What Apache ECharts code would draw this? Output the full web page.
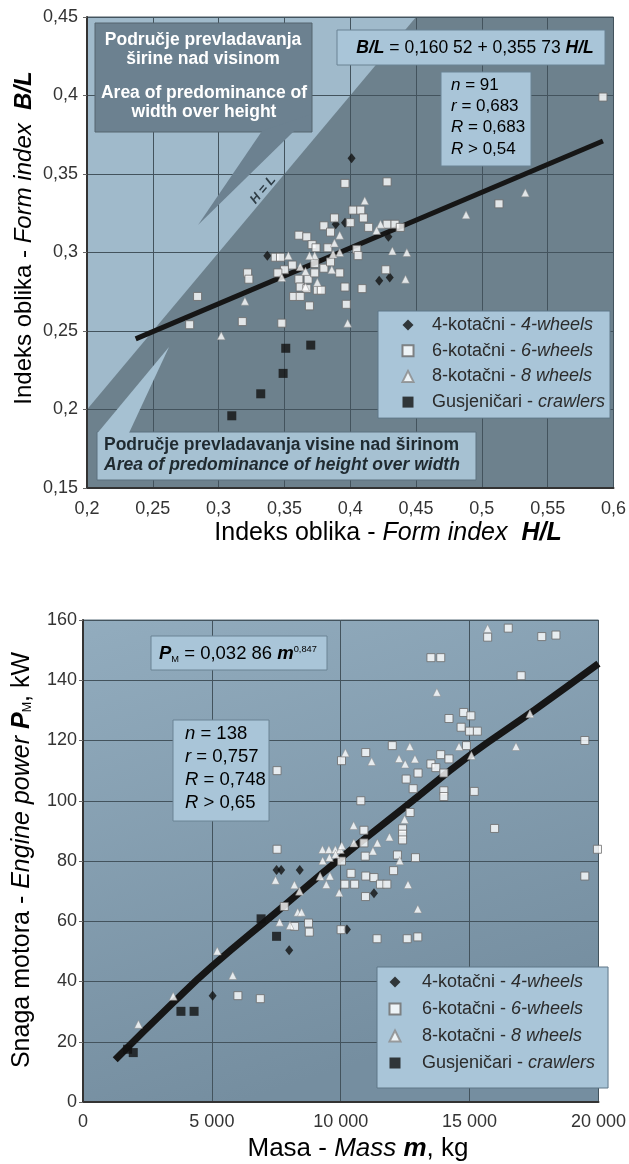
<!DOCTYPE html>
<html>
<head>
<meta charset="utf-8">
<script src="https://cdn.jsdelivr.net/npm/echarts@6/dist/echarts.min.js"></script>
<style>
html, body { margin: 0; padding: 0; background: #fff; }
#chart { width: 629px; height: 1164px; }
</style>
</head>
<body>
<div id="chart"></div>
<script>
var FONT = "'Liberation Sans', Arial, sans-serif";

var groupNames = ['4-kotačni - 4-wheels', '6-kotačni - 6-wheels', '8-kotačni - 8 wheels', 'Gusjeničari - crawlers'];
var groupLabels = ['4-kotačni - {i|4-wheels}', '6-kotačni - {i|6-wheels}', '8-kotačni - {i|8 wheels}', 'Gusjeničari - {i|crawlers}'];

// ---- top chart: form index H/L vs B/L ----
var topX = [0.2, 0.6];
var topY = [0.15, 0.45];
var topStep = 0.05;
var widthZone = [[0.2, 0.2], [0.2, 0.45], [0.45, 0.45]];   // B/L > H/L

var fourWheelTop = [[0.401, 0.360], [0.389, 0.318], [0.396, 0.319], [0.337, 0.298], [0.429, 0.310], [0.422, 0.282], [0.430, 0.284]];
var sixWheelTop = [
  [0.592, 0.399], [0.513, 0.331], [0.396, 0.344], [0.428, 0.345],
  [0.402, 0.327], [0.408, 0.327], [0.410, 0.322], [0.388, 0.322], [0.400, 0.319], [0.380, 0.317], [0.385, 0.313], [0.414, 0.316],
  [0.428, 0.318], [0.434, 0.318], [0.438, 0.316],
  [0.361, 0.311], [0.367, 0.310], [0.371, 0.305], [0.374, 0.303], [0.383, 0.303], [0.405, 0.302], [0.406, 0.298],
  [0.343, 0.297], [0.347, 0.297], [0.356, 0.292], [0.350, 0.289], [0.373, 0.293], [0.380, 0.290], [0.385, 0.294], [0.392, 0.287], [0.345, 0.287],
  [0.322, 0.287], [0.323, 0.283], [0.361, 0.283], [0.368, 0.283], [0.373, 0.287], [0.362, 0.278], [0.367, 0.277], [0.375, 0.276], [0.378, 0.276],
  [0.396, 0.278], [0.409, 0.277], [0.427, 0.289],
  [0.357, 0.272], [0.362, 0.272], [0.369, 0.266], [0.397, 0.267],
  [0.284, 0.272], [0.278, 0.254], [0.318, 0.256], [0.348, 0.255]
];
var eightWheelTop = [
  [0.411, 0.333], [0.392, 0.311], [0.388, 0.306], [0.387, 0.299], [0.392, 0.300], [0.423, 0.318], [0.420, 0.314], [0.432, 0.301], [0.443, 0.300], [0.442, 0.283],
  [0.353, 0.298], [0.373, 0.298], [0.369, 0.298], [0.362, 0.291], [0.366, 0.288], [0.348, 0.284], [0.375, 0.281], [0.366, 0.278], [0.320, 0.269], [0.386, 0.289],
  [0.302, 0.247], [0.398, 0.255], [0.488, 0.324], [0.533, 0.338]
];
var crawlerTop = [[0.310, 0.196], [0.332, 0.210], [0.349, 0.223], [0.351, 0.239], [0.370, 0.241]];
var regTop = [[0.237, 0.245], [0.592, 0.371]];

// ---- bottom chart: mass m vs engine power P ----
var botX = [0, 20000];
var botY = [0, 160];
var fourWheelBot = [[7510, 77], [7690, 77], [8410, 77], [8000, 50.4], [5030, 35.3], [11290, 69.3], [10240, 57.3]];
var sixWheelBot = [
  [15700, 154.3], [16500, 157.3], [17800, 154.5], [18350, 155], [17000, 141.5], [13500, 147.5], [13880, 147.5],
  [14200, 127.3], [14770, 129.3], [15050, 128.2], [14670, 124.4], [15000, 123.1], [15300, 123.1], [14880, 118.3], [19470, 120],
  [12000, 118.3], [10970, 116], [10030, 113.3], [7530, 110], [13880, 115.3], [14200, 113.9], [13500, 112.2], [13690, 111], [14000, 109.2], [13000, 109.2],
  [12540, 107.2], [12810, 104], [14000, 103.3], [14000, 101.4], [15180, 103.1], [10780, 100], [12690, 96.1], [12400, 90.7], [12400, 88.9], [12400, 87.0],
  [15970, 90.8], [19960, 83.9], [19470, 75], [10900, 90.2], [7530, 83.9], [10900, 86], [10950, 81.6], [12900, 81.1], [10030, 80], [12200, 82],
  [10400, 75.9], [10970, 75], [11290, 74.5], [11540, 72.3], [11790, 72.3], [10160, 72.3], [10540, 72.3], [12050, 76.8], [10960, 68.2], [10015, 57.2],
  [11410, 54.2], [12580, 54.2], [12990, 54.8], [7810, 64.9], [8210, 58.3], [8750, 59.4], [8780, 56.4], [6010, 35.3], [6880, 34.3]
];
var eightWheelBot = [
  [15700, 157.2], [13730, 136], [17340, 128.9], [16800, 118], [14590, 118], [15070, 115], [12680, 118], [12260, 114], [12500, 112.2], [12880, 113.9],
  [10180, 115.9], [11200, 113], [12480, 93.8], [10500, 91.8], [11890, 88], [10510, 86], [11420, 86], [11250, 83.3], [9290, 83.8], [9540, 83.8], [9790, 83.8], [9980, 83.8],
  [10040, 85.1], [9560, 81.2], [9800, 82.2], [9300, 80.1], [12290, 80.1], [12610, 72.2], [7470, 73.6], [8200, 72.1], [8400, 70],
  [9200, 74.9], [9580, 75], [9440, 72.2], [9940, 69.5], [8330, 63], [8480, 63], [8030, 58.6], [7630, 59.7], [12990, 64.1],
  [5210, 50.1], [5810, 42], [3500, 35.1], [2150, 25.8]
];
var crawlerBot = [[6910, 60.8], [7510, 55], [3800, 30.1], [4310, 30.1], [1730, 17.5], [1950, 16.4]];
var regBot = [[1250, 14], [3500, 33], [5000, 45], [7500, 63], [10000, 81], [12500, 98], [15000, 115], [17500, 130], [20000, 145.5]];

var LIGHT = '#a0bacb';
var DARK = '#6d818d';
var BOX = '#a9c5d8';
var TXT = '#2b2b2b';

function comma(v) { return String(Math.round(v * 100) / 100).replace('.', ','); }
function thousands(v) { return String(v).replace(/\B(?=(\d{3})+$)/g, ' '); }

function rich(size, lh) {
  var r = {
    n: { fontSize: size, fontFamily: FONT, color: TXT },
    i: { fontSize: size, fontFamily: FONT, color: TXT, fontStyle: 'italic' },
    b: { fontSize: size, fontFamily: FONT, color: TXT, fontStyle: 'italic', fontWeight: 'bold' },
    sub: { fontSize: size * 0.5, fontFamily: FONT, color: TXT, verticalAlign: 'bottom' },
    sup: { fontSize: size * 0.5, fontFamily: FONT, color: '#e8eef2', verticalAlign: 'top' }
  };
  if (lh) { r.n.lineHeight = lh; r.i.lineHeight = lh; r.b.lineHeight = lh; }
  return r;
}

function legendOf(top, gap, pad, spacer) {
  return {
    data: groupNames, orient: 'vertical', left: pad.box, top: top,
    itemWidth: 11, itemHeight: 11, itemGap: gap, padding: pad.p,
    backgroundColor: BOX, borderColor: '#5f7787', borderWidth: 1,
    selectedMode: false,
    formatter: function (name) { return '{s| }' + groupLabels[groupNames.indexOf(name)]; },
    textStyle: {
      fontSize: 18, fontFamily: FONT, color: TXT, lineHeight: 18,
      rich: {
        s: { width: spacer, fontSize: 18, lineHeight: 18 },
        i: { fontSize: 18, fontFamily: FONT, color: TXT, fontStyle: 'italic', lineHeight: 18 }
      }
    }
  };
}

var marker = [
  { symbol: 'diamond', symbolSize: [8, 10], itemStyle: { color: '#111', borderColor: '#111', borderWidth: 0 } },
  { symbol: 'rect', symbolSize: 8, itemStyle: { color: '#fff', borderColor: '#6a6a6a', borderWidth: 1 } },
  { symbol: 'triangle', symbolSize: 8, itemStyle: { color: '#fff', borderColor: '#8a8a8a', borderWidth: 0.6 } },
  { symbol: 'rect', symbolSize: 9, itemStyle: { color: '#111', borderColor: '#111', borderWidth: 0 } }
];

function scatter(i, data, gridIdx) {
  return {
    name: groupNames[i], type: 'scatter', xAxisIndex: gridIdx, yAxisIndex: gridIdx,
    symbol: marker[i].symbol, symbolSize: marker[i].symbolSize, itemStyle: marker[i].itemStyle,
    data: data, z: 3
  };
}

function axisCommon(fmt, margin) {
  return {
    axisLine: { show: true, lineStyle: { color: '#333', width: 2 } },
    axisLabel: { formatter: fmt, fontSize: 18, fontFamily: FONT, color: '#333', margin: margin },
    splitLine: { show: true, lineStyle: { color: '#43535d', width: 1 } }
  };
}

var myChart = echarts.init(document.getElementById('chart'));

var option = {
  animation: false,
  backgroundColor: '#fff',
  grid: [
    { left: 87, top: 17, width: 527, height: 471, show: true, backgroundColor: 'transparent', borderColor: '#4b5b65', borderWidth: 1 },
    {
      left: 83, top: 620, width: 532, height: 482, show: true, borderColor: '#5d707c', borderWidth: 1,
      backgroundColor: { type: 'linear', x: 0, y: 0, x2: 0.3, y2: 1, colorStops: [{ offset: 0, color: '#92acbe' }, { offset: 1, color: '#758ea0' }] }
    }
  ],
  xAxis: [
    Object.assign({ type: 'value', gridIndex: 0, min: topX[0], max: topX[1], interval: topStep, axisTick: { show: false } }, axisCommon(comma, 12)),
    Object.assign({ type: 'value', gridIndex: 1, min: botX[0], max: botX[1], interval: 5000, axisTick: { show: false } }, axisCommon(thousands, 11))
  ],
  yAxis: [
    Object.assign({ type: 'value', gridIndex: 0, min: topY[0], max: topY[1], interval: topStep, axisTick: { show: true, length: 4, lineStyle: { color: '#666' } } }, axisCommon(comma, 9)),
    Object.assign({ type: 'value', gridIndex: 1, min: botY[0], max: botY[1], interval: 20, axisTick: { show: true, length: 4, lineStyle: { color: '#666' } } }, axisCommon(null, 6))
  ],
  legend: [
    legendOf(311, 7.7, { box: 378, p: [5, 5, 7, 23.5] }, 13.5),
    legendOf(967, 9, { box: 377, p: [6, 13, 16, 11.5] }, 16.5)
  ],
  series: [
    {
      type: 'custom', xAxisIndex: 0, yAxisIndex: 0, z: -1, silent: true,
      data: [[topX[0], topY[0]]],
      renderItem: function (params, api) {
        var a = api.coord([topX[0], topY[1]]);
        var b = api.coord([topX[1], topY[0]]);
        return {
          type: 'group',
          children: [
            { type: 'rect', shape: { x: a[0], y: a[1], width: b[0] - a[0], height: b[1] - a[1] }, style: { fill: DARK } },
            { type: 'polygon', shape: { points: widthZone.map(function (p) { return api.coord(p); }) }, style: { fill: LIGHT } }
          ]
        };
      }
    },
    { type: 'line', xAxisIndex: 0, yAxisIndex: 0, data: regTop, symbol: 'none', z: 2, lineStyle: { color: '#161616', width: 5 } },
    scatter(0, fourWheelTop, 0),
    scatter(1, sixWheelTop, 0),
    scatter(2, eightWheelTop, 0),
    scatter(3, crawlerTop, 0),
    { type: 'line', xAxisIndex: 1, yAxisIndex: 1, data: regBot, symbol: 'none', smooth: true, z: 2, lineStyle: { color: '#161616', width: 7 } },
    scatter(0, fourWheelBot, 1),
    scatter(1, sixWheelBot, 1),
    scatter(2, eightWheelBot, 1),
    scatter(3, crawlerBot, 1)
  ],
  graphic: [
    // axis titles
    { type: 'text', x: 24, y: 238, rotation: Math.PI / 2, z: 10,
      style: { text: '{n|Indeks oblika - }{i|Form index}{n|  }{b|B/L}', rich: rich(24), align: 'center', verticalAlign: 'middle' } },
    { type: 'text', x: 388, y: 533, z: 10,
      style: { text: '{n|Indeks oblika - }{i|Form index}{n|  }{b|H/L}', rich: rich(25), align: 'center', verticalAlign: 'middle' } },
    { type: 'text', x: 22, y: 860, rotation: Math.PI / 2, z: 10,
      style: { text: '{n|Snaga motora - }{i|Engine power }{b|P}{sub|M}{n|, kW}', rich: rich(25), align: 'center', verticalAlign: 'middle' } },
    { type: 'text', x: 358, y: 1149, z: 10,
      style: { text: '{n|Masa - }{i|Mass }{b|m}{n|, kg}', rich: rich(26), align: 'center', verticalAlign: 'middle' } },

    // upper callout: width over height
    { type: 'rect', z: 5, shape: { x: 95, y: 23, width: 217, height: 109 }, style: { fill: '#6c8190', stroke: '#54656f', lineWidth: 1 } },
    { type: 'polygon', z: 6, shape: { points: [[262, 131], [311.5, 114], [198, 225]] }, style: { fill: '#6c8190' } },
    { type: 'text', x: 203, y: 30.5, z: 7,
      style: { text: 'Područje prevladavanja\nširine nad visinom', font: 'bold 17.5px ' + FONT, fill: '#fff', align: 'center', verticalAlign: 'top', lineHeight: 19 } },
    { type: 'text', x: 204, y: 83.5, z: 7,
      style: { text: 'Area of predominance of\nwidth over height', font: 'bold 17.5px ' + FONT, fill: '#fff', align: 'center', verticalAlign: 'top', lineHeight: 19 } },
    { type: 'text', x: 263, y: 190, rotation: 50 * Math.PI / 180, z: 7,
      style: { text: 'H = L', font: 'italic bold 13px ' + FONT, fill: '#2f3e47', align: 'center', verticalAlign: 'middle' } },

    // top equation and statistics
    { type: 'rect', z: 5, shape: { x: 337, y: 30, width: 268, height: 35 }, style: { fill: BOX, stroke: '#6a8394', lineWidth: 1 } },
    { type: 'text', x: 475, y: 48, z: 7,
      style: { text: '{b|B/L}{n| = 0,160 52 + 0,355 73 }{b|H/L}', rich: rich(17.5), align: 'center', verticalAlign: 'middle' } },
    { type: 'rect', z: 5, shape: { x: 441, y: 72, width: 90, height: 94 }, style: { fill: BOX, stroke: '#6a8394', lineWidth: 1 } },
    { type: 'text', x: 451, y: 74.5, z: 7,
      style: { text: '{i|n}{n| = 91}\n{i|r}{n| = 0,683}\n{i|R}{n| = 0,683}\n{i|R}{n| > 0,54}', rich: rich(17, 21.3), align: 'left', verticalAlign: 'top' } },

    // lower callout: height over width
    { type: 'rect', z: 5, shape: { x: 97, y: 432, width: 379, height: 48 }, style: { fill: '#a6c1d2', stroke: '#5d717e', lineWidth: 1 } },
    { type: 'polygon', z: 6, shape: { points: [[97.5, 433], [129, 433], [169, 347]] }, style: { fill: '#a6c1d2' } },
    { type: 'text', x: 104, y: 435, z: 7,
      style: { text: '{p|Područje prevladavanja visine nad širinom}\n{q|Area of predominance of height over width}',
        rich: { p: { font: 'bold 17.5px ' + FONT, fill: '#1f2a30', lineHeight: 20 }, q: { font: 'italic bold 17.5px ' + FONT, fill: '#1f2a30', lineHeight: 20 } },
        align: 'left', verticalAlign: 'top' } },

    // bottom equation and statistics
    { type: 'rect', z: 5, shape: { x: 151, y: 636, width: 176, height: 34 }, style: { fill: BOX, stroke: '#6a8394', lineWidth: 1 } },
    { type: 'text', x: 159, y: 654, z: 7,
      style: { text: '{b|P}{sub|M}{n| = 0,032 86 }{b|m}{sup|0,847}', rich: rich(18.5), align: 'left', verticalAlign: 'middle' } },
    { type: 'rect', z: 5, shape: { x: 173, y: 720, width: 96, height: 101 }, style: { fill: BOX, stroke: '#6a8394', lineWidth: 1 } },
    { type: 'text', x: 185, y: 722.5, z: 7,
      style: { text: '{i|n}{n| = 138}\n{i|r}{n| = 0,757}\n{i|R}{n| = 0,748}\n{i|R}{n| > 0,65}', rich: rich(18.5, 23), align: 'left', verticalAlign: 'top' } }
  ]
};

myChart.setOption(option);
</script>
</body>
</html>
